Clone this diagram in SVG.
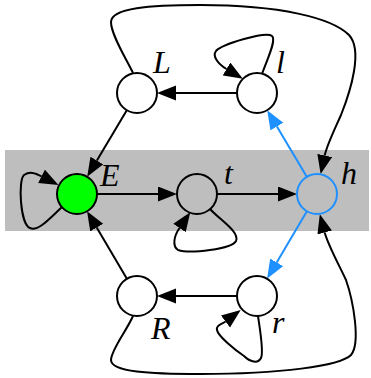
<svg xmlns="http://www.w3.org/2000/svg" width="371" height="378" viewBox="0 0 371 378">
  <style>
    .edge { fill: none; stroke: #000; stroke-width: 2; marker-end: url(#ah); }
    .blue { stroke: #1e90ff; marker-end: url(#ahb); }
    .node { stroke: #000; stroke-width: 2; }
    .lbl { font-family: "Liberation Serif", "DejaVu Serif", serif; font-style: italic; font-size: 32px; fill: #000; }
  </style>
  <defs>
    <marker id="ah" markerUnits="userSpaceOnUse" markerWidth="22" markerHeight="16" refX="0" refY="7.5" orient="auto">
      <path d="M0,0 L19,7.5 L0,15 z" fill="#000"/>
    </marker>
    <marker id="ahb" markerUnits="userSpaceOnUse" markerWidth="22" markerHeight="16" refX="0" refY="7.5" orient="auto">
      <path d="M0,0 L19,7.5 L0,15 z" fill="#1e90ff"/>
    </marker>
  </defs>

  <!-- grey band behind the middle row -->
  <rect x="5" y="150" width="364" height="81" fill="#bebebe"/>

  <g id="connectors">
    <!-- straight edges -->
    <path class="edge" d="M237,93 L176,93"/>
    <path class="edge" d="M237,296 L176,296"/>
    <path class="edge" d="M97,194 L158,194"/>
    <path class="edge" d="M217,194 L278,194"/>
    <path class="edge" d="M126.8,110.2 L96.9,160.5"/>
    <path class="edge" d="M126.9,278.8 L96.7,227.6"/>
    <path class="edge blue" d="M306.8,176.8 L276.9,126.5"/>
    <path class="edge blue" d="M306.9,211.2 L276.7,262.4"/>
    <!-- self loops -->
    <path class="edge" d="M62,207 C50,218 38,232 30,228 C20,224 18,180 24,175 C30,171 35,173 41.5,176.3"/>
    <path class="edge" d="M210,209 C220,220 240,232 236,241 C232,249 190,254 178,250 C172,246 174,236 179.5,228"/>
    <path class="edge" d="M262,74 C266,62 277,40 272,36 C266,31 222,44 216,51 C212,56 218,64 226.5,69"/>
    <path class="edge" d="M258,316 C260,330 264,352 261,358 C258,364 250,362 244,356 C235,350 218,336 217,330 C216,325 221.5,324.5 225.5,321.5"/>
    <!-- long arcs into h -->
    <path class="edge" d="M133,73 C127,60 111,35 111,22 C111,8 150,5 200,5 C280,5 332,18 349,35 C363,50 351,90 341,115 C333,133 327,145 324.7,155.5"/>
    <path class="edge" d="M133,316 C127,330 111,350 111,360 C111,372 150,374 200,374 C280,374 340,366 351,355 C361,343 353,300 346,280 C339,265 328,245 324.7,232.5"/>
  </g>

  <g id="node-E"><circle class="node" cx="77" cy="194" r="20" fill="#00ff00"/><text class="lbl" x="100" y="186">E</text></g>
  <g id="node-t"><circle class="node" cx="197" cy="194" r="20" fill="none"/><text class="lbl" x="224" y="184">t</text></g>
  <g id="node-h"><circle class="node" cx="317" cy="194" r="20" fill="none" stroke="#1e90ff" style="stroke:#1e90ff"/><text class="lbl" x="341" y="184">h</text></g>
  <g id="node-L"><circle class="node" cx="137" cy="93" r="20" fill="#fff"/><text class="lbl" x="153" y="73">L</text></g>
  <g id="node-l"><circle class="node" cx="257" cy="93" r="20" fill="#fff"/><text class="lbl" x="276" y="73">l</text></g>
  <g id="node-R"><circle class="node" cx="137" cy="296" r="20" fill="#fff"/><text class="lbl" x="151" y="339">R</text></g>
  <g id="node-r"><circle class="node" cx="257" cy="296" r="20" fill="#fff"/><text class="lbl" x="272" y="333">r</text></g>
</svg>
